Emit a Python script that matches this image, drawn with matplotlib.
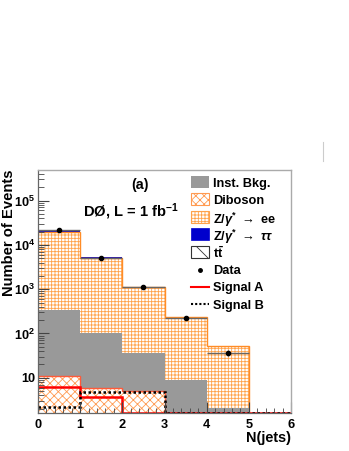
import numpy as np
import matplotlib
matplotlib.use("Agg")
import matplotlib.pyplot as plt
from matplotlib.patches import Patch, Rectangle
from matplotlib.lines import Line2D
from matplotlib.ticker import FixedLocator, FixedFormatter, LogLocator, NullFormatter, MultipleLocator

plt.rcParams['font.family'] = ['Liberation Sans', 'DejaVu Sans']
plt.rcParams['font.weight'] = 'bold'
plt.rcParams['mathtext.fontset'] = 'custom'
plt.rcParams['mathtext.rm'] = 'Liberation Sans:bold'
plt.rcParams['mathtext.bf'] = 'Liberation Sans:bold'
plt.rcParams['mathtext.it'] = 'Liberation Sans:italic'
plt.rcParams['mathtext.sf'] = 'Liberation Sans'
plt.rcParams['hatch.linewidth'] = 0.6

# ---- data ----
bin_edges = [0, 1, 2, 3, 4, 5, 6]
diboson = [11.2, 6.0, 5.15, 0.0, 0.0, 0.0]
inst_bkg = [329.0, 99.0, 31.0, 9.0, 2.1, 0.0]
z_ee = [19700.0, 5050.0, 1075.0, 225.0, 50.0, 0.0]
z_tautau = [15.0, 60.0, 4.0, 1.0, 0.2, 0.0]
ttbar = [0.05, 0.2, 0.6, 0.5, 0.3, 0.1]
data_x = [0.5, 1.5, 2.5, 3.5, 4.5]
data_y = [22000.0, 5100.0, 1100.0, 223.0, 37.0]
data_yerr = [150.0, 70.0, 33.0, 15.0, 6.0]
signal_a = [6.3, 3.77, 0.5, 0.3, 0.2, 0.1]
signal_b = [2.17, 4.75, 4.75, 0.4, 0.3, 0.1]
ytick_vals = [10, 100, 1000, 10000, 100000]
ytick_labels = ["10", r"$10^{2}$", r"$10^{3}$", r"$10^{4}$", r"$10^{5}$"]
xtick_vals = [0, 1, 2, 3, 4, 5, 6]
legend_labels = ["Inst. Bkg.", "Diboson", r"Z/$\gamma^{*}$ $\rightarrow$ ee",
                 r"Z/$\gamma^{*}$ $\rightarrow$ $\tau\tau$", r"$\mathbf{t\bar{t}}$",
                 "Data", "Signal A", "Signal B"]

YMIN, YMAX = 1.58, 4.9e5
W, H = 349.0, 451.0

fig = plt.figure(figsize=(3.49, 4.51), dpi=100)
ax = fig.add_axes([38/W, 1-413.3/H, 253/W, 243.3/H])
ax.set_yscale('log')

edges = np.array(bin_edges, dtype=float)
c0 = np.zeros(6)
c1 = c0 + np.array(diboson)
c2 = c1 + np.array(inst_bkg)
c3 = c2 + np.array(z_ee)
c4 = c3 + np.array(z_tautau)
c5 = c4 + np.array(ttbar)

# ttbar
ax.stairs(c5, edges, baseline=c4, fill=True, facecolor='white', edgecolor='black', hatch='\\\\', linewidth=0)
# Z->tautau
ax.stairs(c4, edges, baseline=c3, fill=True, facecolor='#0000cc', edgecolor='#0000cc', linewidth=0)
# Z->ee
ax.stairs(c3, edges, baseline=c2, fill=True, facecolor='white', edgecolor='#ffa24a', hatch='+++++', linewidth=0)
ax.stairs(c3, edges, baseline=None, fill=False, edgecolor='#ff8c26', linewidth=1.0)
# inst bkg
ax.stairs(c2, edges, baseline=c1, fill=True, facecolor='#999999', edgecolor='#999999', linewidth=0)
# diboson
ax.stairs(c1, edges, baseline=c0, fill=True, facecolor='white', edgecolor='#ff9a50', hatch='xxxx', linewidth=0)
ax.stairs(c1, edges, baseline=None, fill=False, edgecolor='#ff5a3a', linewidth=1.0)

# signals (drawn at the frame bottom when below the visible range)
ax.stairs(np.clip(signal_a, YMIN * 1.005, None), edges, baseline=None, fill=False,
          edgecolor='#ff0000', linewidth=1.8)
ax.stairs(np.clip(signal_b, YMIN * 1.005, None), edges, baseline=None, fill=False,
          edgecolor='black', linewidth=1.8, linestyle=(0, (1, 1)))

# data
ax.errorbar(data_x, data_y, xerr=0.5, yerr=data_yerr, fmt='o', color='black',
            ecolor='#666666', elinewidth=1.0, markersize=3.0, capsize=0, zorder=5)

ax.set_xlim(0, 6)
ax.set_ylim(YMIN, YMAX)

ax.yaxis.set_major_locator(FixedLocator(ytick_vals))
ax.yaxis.set_major_formatter(FixedFormatter(ytick_labels))
ax.yaxis.set_minor_locator(LogLocator(base=10, subs=np.arange(2, 10)))
ax.yaxis.set_minor_formatter(NullFormatter())
ax.xaxis.set_major_locator(FixedLocator(xtick_vals))
ax.xaxis.set_minor_locator(MultipleLocator(0.2))

ax.tick_params(axis='both', which='both', direction='in', colors='#444444',
               labelcolor='black', labelsize=9.2)
ax.tick_params(axis='y', which='major', length=8, width=0.8, pad=2)
ax.tick_params(axis='y', which='minor', length=4, width=0.6)
ax.tick_params(axis='x', which='major', length=8, width=0.8, pad=4)
ax.tick_params(axis='x', which='minor', length=3.5, width=0.6)
ax.tick_params(top=False, right=False, which='both')

for s in ['left', 'bottom']:
    ax.spines[s].set_color('#666666')
    ax.spines[s].set_linewidth(0.9)
for s in ['top', 'right']:
    ax.spines[s].set_color('#aaaaaa')
    ax.spines[s].set_linewidth(1.0)

ax.set_ylabel("Number of Events", fontsize=10.6, fontweight='bold', loc='top')
ax.yaxis.set_label_coords(-0.088, 1.0)
ax.set_xlabel("N(jets)", fontsize=10.4, fontweight='bold', loc='right')
ax.xaxis.set_label_coords(1.0, -0.072)

ax.text(0.403, 0.938, "(a)", transform=ax.transAxes, ha='center', va='center', fontsize=10.3)
ax.text(0.366, 0.828, r"DØ, L = 1 fb$^{-1}$", transform=ax.transAxes, ha='center', va='center', fontsize=10.6)

# ---- legend, laid out row by row in figure pixels ----
def fx(px):
    return px / W

def fy(py):
    return 1 - py / H

row_y = [182, 199.5, 217, 234.3, 251.6, 269.5, 286.8, 304]
hx0, hx1, hh = 191, 209, 12
tx = 213
patch_styles = [
    dict(facecolor='#999999', edgecolor='#999999', linewidth=0),
    dict(facecolor='white', edgecolor='#ff9a50', hatch='xxxx', linewidth=0.8),
    dict(facecolor='white', edgecolor='#ffa24a', hatch='+++++', linewidth=0.8),
    dict(facecolor='#0000cc', edgecolor='#0000cc', linewidth=0.5),
    dict(facecolor='white', edgecolor='#333333', hatch='\\\\', linewidth=0.8),
]
for i, (yc, lab) in enumerate(zip(row_y, legend_labels)):
    if i < 5:
        fig.add_artist(Rectangle((fx(hx0), fy(yc + hh / 2)), fx(hx1) - fx(hx0), hh / H,
                                 transform=fig.transFigure, **patch_styles[i]))
    elif i == 5:
        fig.add_artist(Line2D([fx((hx0 + hx1) / 2)], [fy(yc)], marker='o', color='black',
                              markersize=2.5, linestyle='none', transform=fig.transFigure))
    elif i == 6:
        fig.add_artist(Line2D([fx(hx0), fx(hx1)], [fy(yc), fy(yc)], color='#ff0000',
                              linewidth=1.5, transform=fig.transFigure))
    else:
        fig.add_artist(Line2D([fx(hx0), fx(hx1)], [fy(yc), fy(yc)], color='black',
                              linewidth=1.5, linestyle=(0, (1, 1)), transform=fig.transFigure))
    fig.text(fx(tx), fy(yc), lab, ha='left', va='center_baseline', fontsize=9.2)

fig.add_artist(Line2D([323.3/W, 323.3/W], [1-141.7/H, 1-160.7/H],
                      transform=fig.transFigure, color='#cccccc', linewidth=0.8))

fig.savefig("out.png", dpi=100)
